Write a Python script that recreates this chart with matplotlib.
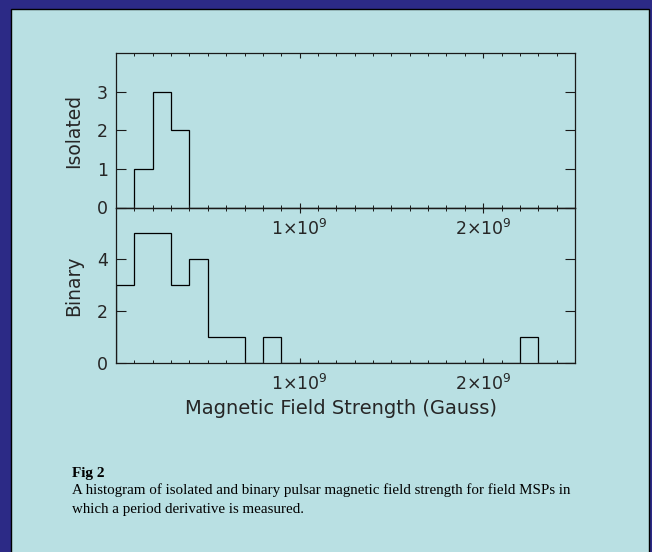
import numpy as np
import matplotlib
matplotlib.use("Agg")
import matplotlib.pyplot as plt
from matplotlib.patches import Rectangle
from matplotlib.ticker import MultipleLocator, FixedLocator, NullLocator

# DATA
bin_edges = np.arange(0, 25.5, 1) * 1e8   # 1e8 Gauss bins, 0 .. 2.5e9

isolated_counts = [0, 1, 3, 2, 0, 0, 0, 0, 0, 0,
                   0, 0, 0, 0, 0, 0, 0, 0, 0, 0,
                   0, 0, 0, 0, 0]
binary_counts = [3, 5, 5, 3, 4, 1, 1, 0, 1, 0,
                 0, 0, 0, 0, 0, 0, 0, 0, 0, 0,
                 0, 0, 1, 0, 0]

x_ticks = [1e9, 2e9]
x_ticklabels = [r"1$\times$10$^{9}$", r"2$\times$10$^{9}$"]
iso_yticks = [0, 1, 2, 3]
bin_yticks = [0, 2, 4]

caption_title = "Fig 2"
caption_text = ("A histogram of isolated and binary pulsar magnetic field strength for field MSPs in\n"
                "which a period derivative is measured.")

# STYLE
W, H = 652, 552
NAVY = "#2c2a86"
PANEL = "#b9e0e3"
INK = "#1a1a1a"
TXT = "#262626"

plt.rcParams["font.family"] = "DejaVu Sans"
plt.rcParams["mathtext.fontset"] = "dejavusans"

fig = plt.figure(figsize=(W / 100, H / 100), dpi=100, facecolor=NAVY)

# light panel with thin black outline
fig.patches.append(Rectangle((10.5 / W, -0.01), (648.5 - 10.5) / W, (H - 8.5) / H + 0.01,
                             transform=fig.transFigure, facecolor=PANEL,
                             edgecolor="black", lw=1.0, zorder=-10))


def px_axes(x0, y0, x1, y1):
    return fig.add_axes([x0 / W, 1 - y1 / H, (x1 - x0) / W, (y1 - y0) / H])


ax_top = px_axes(116, 53, 575, 207.5)
ax_bot = px_axes(116, 207.5, 575, 363)

for ax, counts, yticks, ymax in [(ax_top, isolated_counts, iso_yticks, 4),
                                 (ax_bot, binary_counts, bin_yticks, 6)]:
    ax.set_facecolor("none")
    ax.stairs(counts, bin_edges, baseline=0, color="black", lw=0.9)
    ax.set_xlim(0, 2.5e9)
    ax.set_ylim(0, ymax)

    ax.xaxis.set_major_locator(FixedLocator(x_ticks))
    ax.set_xticklabels(x_ticklabels)
    ax.xaxis.set_minor_locator(MultipleLocator(1e8))
    ax.yaxis.set_major_locator(FixedLocator(yticks))
    ax.yaxis.set_minor_locator(NullLocator())

    ax.tick_params(axis="x", which="major", direction="in", top=True, bottom=True,
                   length=3.5, width=0.8, color=INK, pad=8, labelsize=12.5, labelcolor=TXT)
    ax.tick_params(axis="x", which="minor", direction="in", top=True, bottom=True,
                   length=2, width=0.7, color=INK)
    ax.tick_params(axis="y", which="major", direction="in", left=True, right=True,
                   length=7.5, width=0.8, color=INK, pad=6, labelsize=12.5, labelcolor=TXT)
    for s in ax.spines.values():
        s.set_color(INK)
        s.set_linewidth(0.9)

ax_top.set_zorder(2)
ax_bot.set_zorder(1)

fig.text(74 / W, 1 - 131 / H, "Isolated", rotation=90, ha="center", va="center",
         fontsize=13.5, color=TXT)
fig.text(74 / W, 1 - 286 / H, "Binary", rotation=90, ha="center", va="center",
         fontsize=13.5, color=TXT)
fig.text(341 / W, 1 - 409 / H, "Magnetic Field Strength (Gauss)", ha="center", va="center",
         fontsize=14, color=TXT)

# caption
fig.text(72 / W, 1 - 473 / H, caption_title, ha="left", va="center",
         family="Liberation Serif", fontweight="bold", fontsize=11, color="black")
fig.text(72 / W, 1 - 483 / H, caption_text, ha="left", va="top",
         family="Liberation Serif", fontsize=10.8, color="black", linespacing=1.6)

fig.savefig("out.png", dpi=100, facecolor=NAVY)
